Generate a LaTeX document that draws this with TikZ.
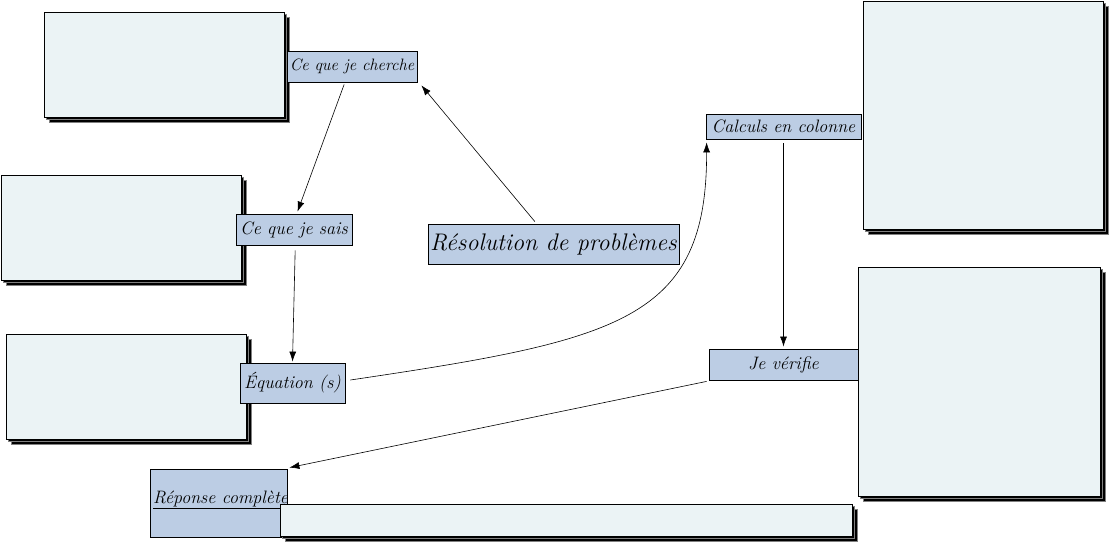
\documentclass[tikz,border=0pt]{standalone}
\usetikzlibrary{shadows,calc,arrows.meta}
\definecolor{boxfill}{HTML}{EBF3F5}
\definecolor{labfill}{HTML}{BCCDE4}
\begin{document}
\begin{tikzpicture}[x=1pt,y=-1pt,
  bigbox/.style={draw=black,line width=0.8pt,fill=boxfill,rectangle,inner sep=0pt,
    double copy shadow={shadow xshift=2.5pt,shadow yshift=-2.5pt,fill=black,draw=gray,opacity=1,shadow scale=1}},
  labbox/.style={draw=black,line width=0.8pt,fill=labfill,rectangle,inner sep=0pt,
    font=\itshape\fontsize{18}{20}\selectfont},
  arr/.style={line width=0.6pt,-{Latex[length=10pt,width=7pt]}}]
\useasboundingbox (0,0) rectangle (1110,543);
% big boxes
\node[bigbox,minimum width=240pt,minimum height=105pt] (b1) at (164,64.5) {};
\node[bigbox,minimum width=240pt,minimum height=105pt] (b2) at (121,227.5) {};
\node[bigbox,minimum width=240pt,minimum height=105pt] (b3) at (126,386.5) {};
\node[bigbox,minimum width=240pt,minimum height=228pt] (b4) at (983,115) {};
\node[bigbox,minimum width=242pt,minimum height=229pt] (b5) at (979,381.5) {};
% labels
\node[labbox,minimum width=130pt,minimum height=31pt,font=\itshape\fontsize{16.5}{18}\selectfont] (l1) at (352,66.5) {Ce que je cherche};
\node[labbox,minimum width=116pt,minimum height=31pt] (l2) at (294,229.5) {Ce que je sais};
\node[labbox,minimum width=105pt,minimum height=40pt] (l3) at (292.5,383) {Équation (s)};
\node[labbox,minimum width=251pt,minimum height=40pt,font=\itshape\fontsize{24}{26}\selectfont] (l4) at (553.5,244) {Résolution de problèmes};
\node[labbox,minimum width=155pt,minimum height=25pt] (l5) at (783.5,126.5) {Calculs en colonne};
\node[labbox,minimum width=149pt,minimum height=31pt] (l6) at (783.5,364.5) {Je vérifie};
\node[labbox,minimum width=137pt,minimum height=68pt] (l7) at (218.5,503) {};
\node[font=\itshape\fontsize{18}{20}\selectfont,anchor=west,inner sep=0pt] (l7t) at (153,500) {\underline{Réponse complète}};
\node[bigbox,minimum width=572pt,minimum height=32pt] (b6) at (566,520) {};
% connectors
\draw[arr] ($(l1.south west)!0.44!(l1.south east)+(0,2)$) -- ($(l2.north west)!0.53!(l2.north east)+(0,-2)$);
\draw[arr] ($(l2.south west)!0.51!(l2.south east)+(0,5)$) -- ($(l3.north west)!0.5!(l3.north east)+(0,-1)$);
\draw[arr] ($(l4.north west)!0.426!(l4.north east)+(0,-2)$) -- ($(l1.south east)+(4,3)$);
\draw[arr] ($(l3.east)+(5,-3)$) .. controls (620,340) and (707,320) .. ($(l5.south west)+(1,3)$);
\draw[arr] ($(l5.south)+(0,4)$) -- ($(l6.north)+(0,-2)$);
\draw[arr] ($(l6.south west)+(-2,1)$) -- ($(l7.north east)+(2,-1)$);
\end{tikzpicture}
\end{document}
